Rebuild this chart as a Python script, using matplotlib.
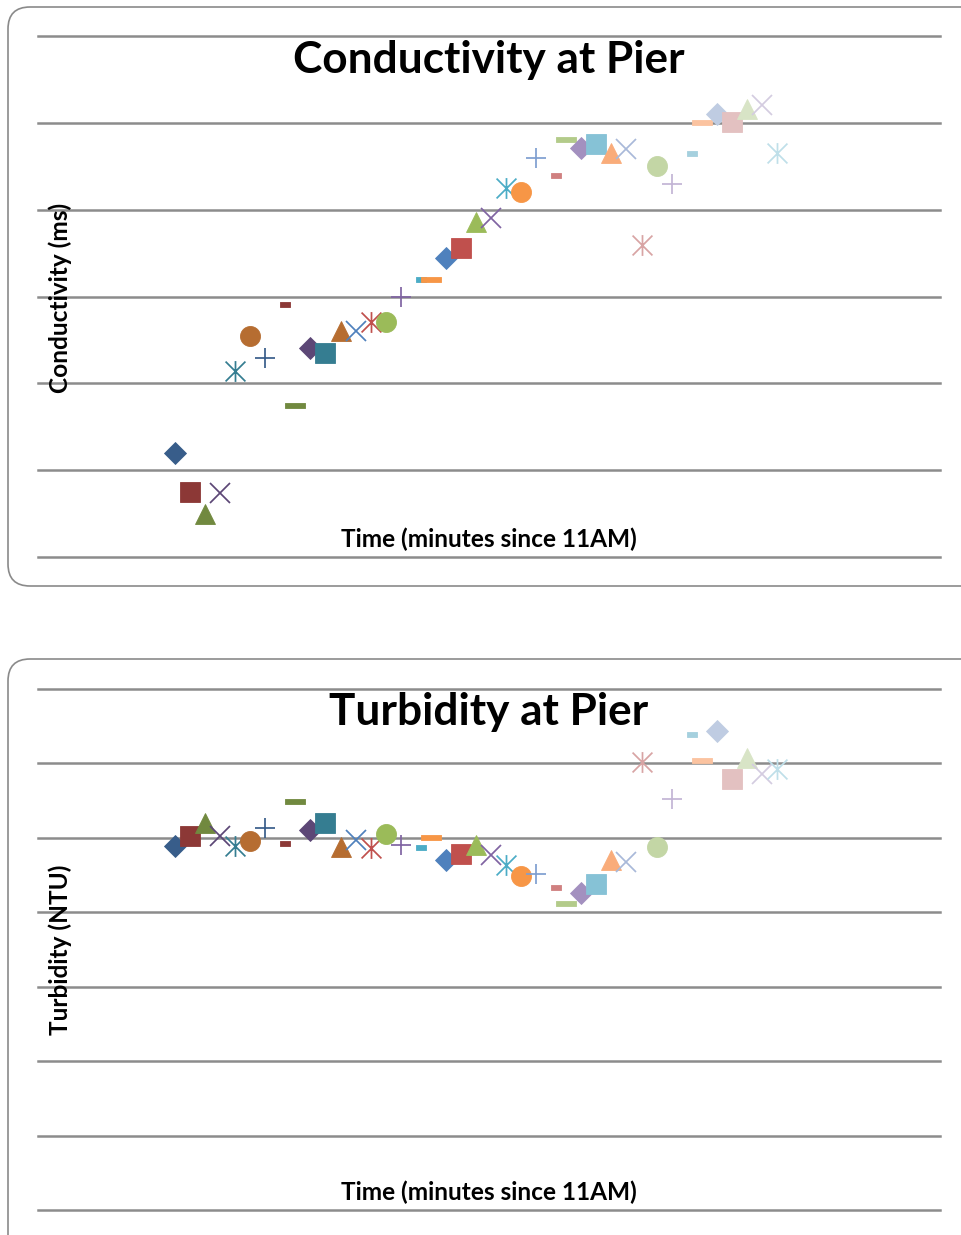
import matplotlib
matplotlib.use('Agg')
import matplotlib.pyplot as plt
from matplotlib.path import Path
from matplotlib.patches import FancyBboxPatch
from matplotlib.transforms import IdentityTransform

# ---------------- data ----------------
minutes = list(range(41))
conductivity = [12.0, 7.5, 5.0, 7.4, 21.4, 25.4, 22.9, 29.1, 17.5, 24.1,
                23.5, 26.0, 26.0, 27.1, 27.1, 29.9, 32.0, 32.0, 34.4, 35.6,
                38.6, 39.0, 42.5, 42.0, 46.0, 44.0, 48.1, 47.1, 47.6, 46.5,
                47.0, 35.9, 45.0, 43.0, 46.5, 50.1, 51.0, 50.1, 51.6, 52.1,
                46.5]
turbidity = [48.9, 50.2, 52.0, 50.2, 48.9, 49.6, 51.3, 49.3, 55.0, 51.0,
             52.0, 48.8, 49.7, 48.6, 50.5, 49.0, 48.8, 50.1, 47.0, 47.8,
             49.1, 47.7, 46.3, 44.9, 45.1, 43.4, 41.3, 42.6, 43.8, 47.0,
             46.7, 60.2, 48.8, 55.2, 63.9, 60.5, 64.4, 57.9, 60.7, 58.6,
             59.3]
cond_ticks = [0, 10, 20, 30, 40, 50, 60]
turb_ticks = [0, 10, 20, 30, 40, 50, 60, 70]

# ---------------- styles ----------------
shades = [
    ['#385D8A', '#8C3836', '#71893F', '#5C4776', '#357D91', '#B66D31'],
    ['#4F81BD', '#C0504D', '#9BBB59', '#8064A2', '#4BACC6', '#F79646'],
    ['#7F9FD0', '#D08080', '#B3CB8A', '#A390BF', '#86C2D6', '#F9AC7A'],
    ['#A9B9D9', '#D8A4A4', '#C3D6A5', '#C3B5D5', '#A5D0DE', '#FBC3A0'],
    ['#BFCCE2', '#E3C1C1', '#D8E4C6', '#D4CCE0', '#BFDFE9', '#FBD5BD'],
]
colors = [shades[min(i // 12, 2) if i < 30 else (3 if i < 36 else 4)][i % 6]
          for i in range(41)]

star = Path([(-1, -1), (1, 1), (-1, 1), (1, -1), (0, -1.05), (0, 1.05)],
            [Path.MOVETO, Path.LINETO, Path.MOVETO, Path.LINETO, Path.MOVETO, Path.LINETO])
short_dash = Path([(0, -0.25), (1, -0.25), (1, 0.25), (0, 0.25), (0, -0.25)],
                  [Path.MOVETO, Path.LINETO, Path.LINETO, Path.LINETO, Path.CLOSEPOLY])
long_dash = Path([(-1, -0.25), (1, -0.25), (1, 0.25), (-1, 0.25), (-1, -0.25)],
                 [Path.MOVETO, Path.LINETO, Path.LINETO, Path.LINETO, Path.CLOSEPOLY])
markers = ['D', 's', '^', 'x', star, 'o', '+', short_dash, long_dash]
line_markers = {3, 4, 6}

W, H = 961, 1235
fig = plt.figure(figsize=(W / 100, H / 100), dpi=100)
FONT = ['Lato', 'DejaVu Sans']

def px_axes(x0, y0, x1, y1):
    return fig.add_axes([x0 / W, 1 - y1 / H, (x1 - x0) / W, (y1 - y0) / H])

def frame(x0, y0, x1, y1):
    p = FancyBboxPatch((x0, H - y1), x1 - x0, y1 - y0,
                       boxstyle='round,pad=0,rounding_size=22',
                       transform=IdentityTransform(), fc='none',
                       ec='#8a8a8a', lw=1.2)
    fig.add_artist(p)

def panel(ax, values, ticks, title, ylabel, title_y, xlabel_y, ylabel_y):
    for i, (x, y) in enumerate(zip(minutes, values)):
        k = i % len(markers)
        m = markers[k]
        c = colors[i]
        if k in line_markers:
            ax.plot([x], [y], ls='none', marker=m, ms=15.0,
                    mfc='none', mec=c, mew=1.25, zorder=3)
        else:
            ms = {0: 11.0, 1: 14.0, 2: 14.5, 5: 14.4, 7: 14.4, 8: 14.4}[k]
            ax.plot([x], [y], ls='none', marker=m, ms=ms, mfc=c, mec=c,
                    mew=0.6, zorder=3)
    ax.set_xlim(-9.1, 50.83)
    ax.set_ylim(ticks[0], ticks[-1])
    ax.set_yticks(ticks)
    ax.set_xticks([])
    ax.tick_params(axis='y', length=0, labelleft=False)
    ax.yaxis.grid(True, color='#8c8c8c', lw=1.8)
    for gl in ax.get_ygridlines():
        gl.set_clip_on(False)
    ax.set_axisbelow(True)
    for s in ax.spines.values():
        s.set_visible(False)
    ax.patch.set_alpha(0)
    fig.text(489 / W, 1 - title_y / H, title, ha='center', va='center',
             fontsize=31.8, fontweight='bold', family=FONT)
    fig.text(489 / W, 1 - xlabel_y / H, 'Time (minutes since 11AM)',
             ha='center', va='center', fontsize=17.6, fontweight='bold', family=FONT)
    fig.text(60 / W, 1 - ylabel_y / H, ylabel, ha='center', va='center',
             rotation=90, fontsize=17.6, fontweight='bold', family=FONT)

frame(8, 7, 985, 586)
frame(8, 659, 985, 1260)

ax1 = px_axes(38, 36, 940, 557)
panel(ax1, conductivity, cond_ticks, 'Conductivity at Pier', 'Conductivity (ms)', 60, 539, 298)

ax2 = px_axes(38, 689, 940, 1210)
panel(ax2, turbidity, turb_ticks, 'Turbidity at Pier', 'Turbidity (NTU)', 712, 1192, 950)

fig.savefig('out.png', dpi=100)
